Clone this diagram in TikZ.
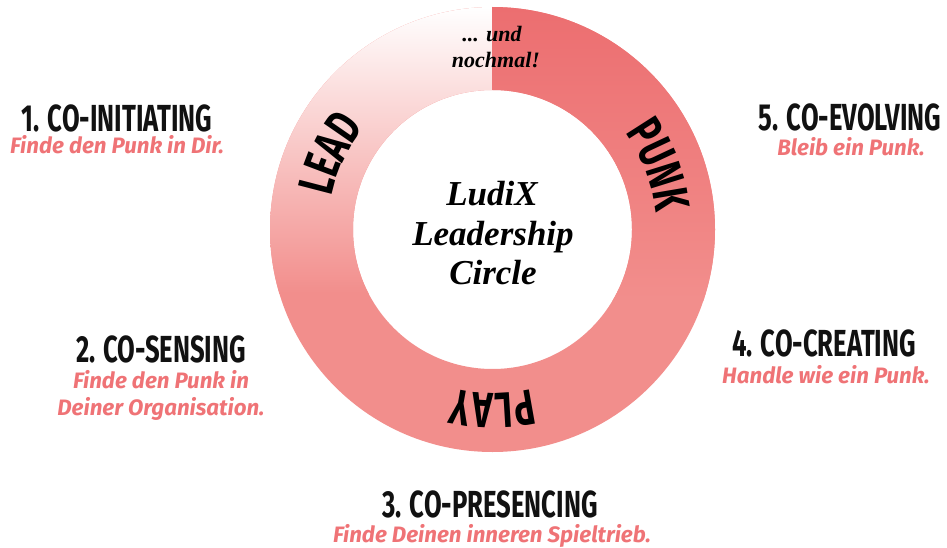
\documentclass[tikz,border=0pt]{standalone}
\usepackage{fontspec}
\setmainfont{Fira Sans}
\newfontfamily\headfont[FakeStretch=0.68]{Fira Sans}
\newfontfamily\subfont{Fira Sans}
\newfontfamily\serifbi{Liberation Serif}
\usetikzlibrary{decorations.text,calc}
\definecolor{salmon}{HTML}{F28E8C}
\definecolor{ringtop}{HTML}{EC6E70}
\definecolor{subred}{HTML}{EF7376}
\definecolor{headblack}{HTML}{111111}
\newcommand\ringlabelfont{\headfont\bfseries\fontsize{50}{50}\selectfont}
\tikzset{
  head/.style={font=\headfont\bfseries\fontsize{37.7}{40}\selectfont, text=headblack, anchor=base, inner sep=0pt},
  subline/.style={font=\subfont\bfseries\itshape\fontsize{22.3}{26}\selectfont, text=subred, anchor=base, inner sep=0pt},
  centertext/.style={font=\serifbi\bfseries\itshape\fontsize{35}{40}\selectfont, anchor=base, inner sep=0pt},
  smalltext/.style={font=\serifbi\bfseries\itshape\fontsize{22}{24}\selectfont, anchor=base, inner sep=0pt},
  ringlabel/.style={decorate, decoration={text along path, text align=center, text={|\ringlabelfont|#1}}}
}
\begin{document}
\begin{tikzpicture}[x=1pt,y=1pt]
\useasboundingbox (0,0) rectangle (947,-548);
\coordinate (C) at (492.5,-229.5);
% ring base
\fill[salmon, even odd rule] (C) circle[radius=222.5] (C) circle[radius=139.5];
% left half fade
\begin{scope}
\clip ($(C)+(0,222.5)$) arc[start angle=90,end angle=270,radius=222.5] -- ($(C)+(0,-139.5)$) arc[start angle=270,end angle=90,radius=139.5] -- cycle;
\shade[top color=white, bottom color=salmon] (260,-7) rectangle (492.5,-293);
\end{scope}
% right half fade
\begin{scope}
\clip ($(C)+(0,222.5)$) arc[start angle=90,end angle=-90,radius=222.5] -- ($(C)+(0,-139.5)$) arc[start angle=-90,end angle=90,radius=139.5] -- cycle;
\shade[top color=ringtop, bottom color=salmon] (492.5,-7) rectangle (725,-300);
\end{scope}
% ring labels
\path[ringlabel=LEAD] ($(C)+(180:164)$) arc[start angle=180,end angle=130,radius=164];
\path[ringlabel=PUNK] ($(C)+(46:164)$) arc[start angle=46,end angle=-4,radius=164];
\path[ringlabel=PLAY] ($(C)+(-65:164)$) arc[start angle=-65,end angle=-115,radius=164];
% centre text
\node[centertext] (c1) at (492,-205) {LudiX};
\node[centertext] (c2) at (493,-245) {Leadership};
\node[centertext] (c3) at (493,-284) {Circle};
\node[smalltext] (n1) at (492,-42) {... und};
\node[smalltext] (n2) at (496,-68) {nochmal!};
% stages
\node[head] (h1) at (117,-132) {1. CO-INITIATING};
\node[subline] (s1) at (117,-154) {Finde den Punk in Dir.};
\node[head] (h2) at (161,-362) {2. CO-SENSING};
\node[subline] (s2a) at (161,-388) {Finde den Punk in};
\node[subline] (s2b) at (161,-415) {Deiner Organisation.};
\node[head] (h3) at (490,-517) {3. CO-PRESENCING};
\node[subline] (s3) at (492,-542) {Finde Deinen inneren Spieltrieb.};
\node[head] (h4) at (824,-356) {4. CO-CREATING};
\node[subline] (s4) at (826,-383) {Handle wie ein Punk.};
\node[head] (h5) at (850,-131) {5. CO-EVOLVING};
\node[subline] (s5) at (851,-156) {Bleib ein Punk.};
\end{tikzpicture}
\end{document}
